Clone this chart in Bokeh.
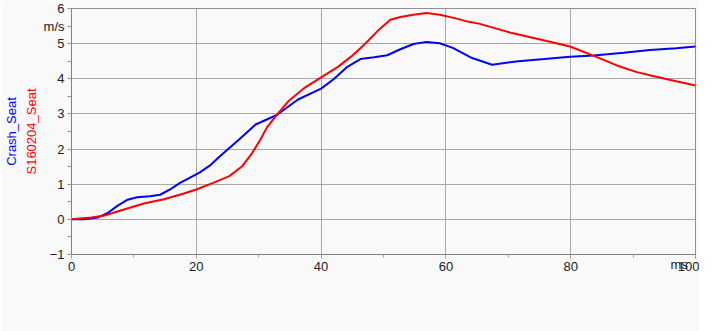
from bokeh.plotting import figure
from bokeh.models import Range1d, Legend, LegendItem, Title, SingleIntervalTicker
from bokeh.embed import file_html
from bokeh.resources import INLINE

# ---- data ----
crash_t = [0, 2.1, 4.2, 5.8, 7.4, 9.0, 10.5, 12.6, 14.2, 15.8, 17.4, 19.0, 20.5, 22.1,
           23.7, 25.3, 26.9, 29.5, 32.9, 36.3, 40.0, 42.1, 44.2, 46.3, 48.5, 50.6, 52.7,
           54.8, 56.9, 59.0, 61.1, 64.2, 67.4, 71.6, 75.8, 79.9, 83.7, 88.5, 92.7, 96.9, 100]
crash_v = [0, 0.0, 0.05, 0.18, 0.39, 0.56, 0.63, 0.66, 0.70, 0.85, 1.04, 1.19, 1.33, 1.52,
           1.78, 2.03, 2.28, 2.70, 2.97, 3.41, 3.72, 4.0, 4.34, 4.56, 4.61, 4.67, 4.84,
           4.99, 5.05, 5.01, 4.88, 4.59, 4.40, 4.50, 4.56, 4.63, 4.66, 4.74, 4.82, 4.87, 4.92]

s16_t = [0, 3.2, 5.3, 8.4, 11.6, 14.8, 17.9, 20.0, 22.7, 25.3, 27.4, 29.0, 30.3, 31.3,
         32.9, 34.8, 37.4, 40.0, 42.7, 44.8, 46.9, 49.0, 51.1, 52.7, 54.8, 56.9, 59.0,
         61.1, 63.7, 65.3, 70.6, 75.8, 79.9, 83.7, 87.4, 90.6, 93.7, 96.9, 100]
s16_v = [0, 0.055, 0.11, 0.28, 0.45, 0.57, 0.73, 0.85, 1.04, 1.23, 1.52, 1.90, 2.28, 2.61,
         2.97, 3.37, 3.75, 4.04, 4.34, 4.63, 4.97, 5.35, 5.68, 5.76, 5.82, 5.87, 5.82,
         5.74, 5.62, 5.57, 5.30, 5.09, 4.92, 4.65, 4.38, 4.19, 4.06, 3.93, 3.81]

x_tick_step = 20
y_tick_step = 1
y_unit = "m/s"
x_unit = "ms"
series_names = ["Crash_Seat", "S160204_Seat"]
series_colors = ["#0000ff", "#ff0000"]

FONT = "Liberation Sans"
BG = "#f9f9f9"
NB = "\u00a0"

p = figure(frame_width=624, frame_height=246, output_backend="svg", toolbar_location=None,
           x_range=Range1d(0, 100), y_range=Range1d(-1, 6),
           min_border_left=60, min_border_right=4, min_border_top=8, min_border_bottom=0)
p.background_fill_color = BG
p.border_fill_color = BG
p.outline_line_color = "#909090"

xa = p.xaxis[0]
ya = p.yaxis[0]
xa.ticker = SingleIntervalTicker(interval=x_tick_step, num_minor_ticks=2)
ya.ticker = SingleIntervalTicker(interval=y_tick_step / 2, num_minor_ticks=0)
overrides = {}
for i in range(-2, 13):
    v = i / 2
    if i % 2:
        overrides[v] = ""
overrides[5.5] = y_unit
ya.major_label_overrides = overrides
p.ygrid.ticker = SingleIntervalTicker(interval=y_tick_step)
p.xgrid.ticker = SingleIntervalTicker(interval=x_tick_step)

for ax in (xa, ya):
    ax.axis_line_color = "#808080"
    ax.major_tick_line_color = "#909090"
    ax.minor_tick_line_color = "#a0a0a0"
    ax.major_tick_out = 4
    ax.major_tick_in = 0
    ax.minor_tick_out = 3
    ax.minor_tick_in = 0
    ax.major_label_text_font = FONT
    ax.major_label_text_font_size = "13px"
    ax.major_label_text_color = "#222222"
    ax.major_label_standoff = 3

xa.axis_label = x_unit + NB * 9
xa.axis_label_align = "end"
xa.axis_label_standoff = -17
xa.axis_label_text_font = FONT
xa.axis_label_text_font_size = "13px"
xa.axis_label_text_font_style = "normal"
xa.axis_label_text_color = "#222222"

p.xgrid.grid_line_color = "#a8a8a8"
p.ygrid.grid_line_color = "#a8a8a8"

r1 = p.line(crash_t, crash_v, line_color=series_colors[0], line_width=2)
r2 = p.line(s16_t, s16_v, line_color=series_colors[1], line_width=2)

# coloured vertical axis titles (red nearer the axis, blue further out)
p.add_layout(Title(text=series_names[1], text_color=series_colors[1], align="center",
                   text_font=FONT, text_font_size="13px", text_font_style="normal",
                   standoff=4), "left")
p.add_layout(Title(text=series_names[0], text_color=series_colors[0], align="center",
                   text_font=FONT, text_font_size="13px", text_font_style="normal",
                   standoff=2), "left")

legend = Legend(items=[LegendItem(label=series_names[0], renderers=[r1]),
                       LegendItem(label=series_names[1], renderers=[r2])],
                orientation="horizontal", location="center",
                label_text_font=FONT, label_text_font_size="13px",
                label_text_color="#222222",
                glyph_width=20, glyph_height=16, label_height=16, label_width=300,
                label_standoff=2, spacing=0, padding=3, margin=4,
                border_line_color="#909090", background_fill_color=BG)
p.add_layout(legend, "below")

open("out.html", "w").write(file_html(p, INLINE))
